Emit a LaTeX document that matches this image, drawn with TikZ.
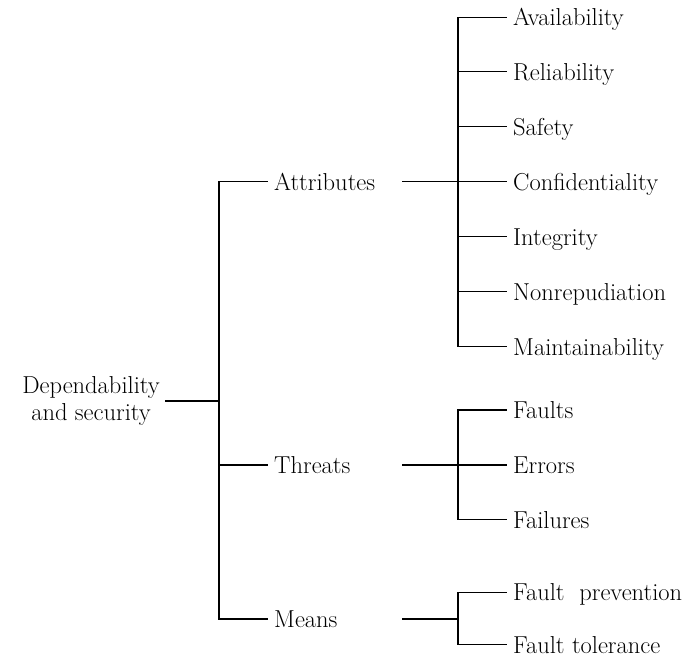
\documentclass[tikz,border=0pt]{standalone}
\begin{document}
\begin{tikzpicture}[x=1pt,y=-1pt,
  every node/.style={font=\fontsize{24.5}{27}\selectfont, inner ysep=0pt},
  label/.style={anchor=west, inner xsep=7pt, text height=16.8pt, text depth=0pt},
  rootbox/.style={anchor=east, align=center, inner xsep=6pt},
  link/.style={line width=1.1pt, line cap=rect}]
\useasboundingbox (0,0) rectangle (697,656);

% root
\node[rootbox] (root) at (166,401) {Dependability\\and security};
\coordinate (trunk) at (219,401);

% second level
\node[label] (attr) at (267,181.7) {Attributes};
\node[label] (threat) at (267,465) {Threats};
\node[label] (means) at (267,619) {Means};

% outgoing stubs and junctions
\coordinate (attrOut) at (403,181.7);
\coordinate (threatOut) at (403,465);
\coordinate (meansOut) at (403,619);
\coordinate (jx) at (458,0);

% leaves
\node[label] (avail) at (506,17.3) {Availability};
\node[label] (relia) at (506,71.9) {Reliability};
\node[label] (safety) at (506,126.7) {Safety};
\node[label] (confid) at (506,181.7) {Confidentiality};
\node[label] (integ) at (506,236.7) {Integrity};
\node[label] (nonrep) at (506,291.7) {Nonrepudiation};
\node[label] (maint) at (506,346.7) {Maintainability};

\node[label] (faults) at (506,410) {Faults};
\node[label] (errors) at (506,465) {Errors};
\node[label] (failures) at (506,519.7) {Failures};

\node[label] (fprev) at (506,592.3) {Fault\hspace{0.3em} prevention};
\node[label] (ftol) at (506,644.6) {Fault tolerance};

% trunk
\draw[link] (root.east) -- (trunk);
\draw[link] (trunk |- attr.west) -- (trunk |- means.west);
\foreach \n in {attr,threat,means}
  \draw[link] (trunk |- \n.west) -- (\n.west);

% attribute branch
\draw[link] (attrOut) -- (jx |- attrOut);
\draw[link] (jx |- avail.west) -- (jx |- maint.west);
\foreach \n in {avail,relia,safety,confid,integ,nonrep,maint}
  \draw[link] (jx |- \n.west) -- (\n.west);

% threat branch
\draw[link] (threatOut) -- (jx |- threatOut);
\draw[link] (jx |- faults.west) -- (jx |- failures.west);
\foreach \n in {faults,errors,failures}
  \draw[link] (jx |- \n.west) -- (\n.west);

% means branch
\draw[link] (meansOut) -- (jx |- meansOut);
\draw[link] (jx |- fprev.west) -- (jx |- ftol.west);
\foreach \n in {fprev,ftol}
  \draw[link] (jx |- \n.west) -- (\n.west);
\end{tikzpicture}
\end{document}
